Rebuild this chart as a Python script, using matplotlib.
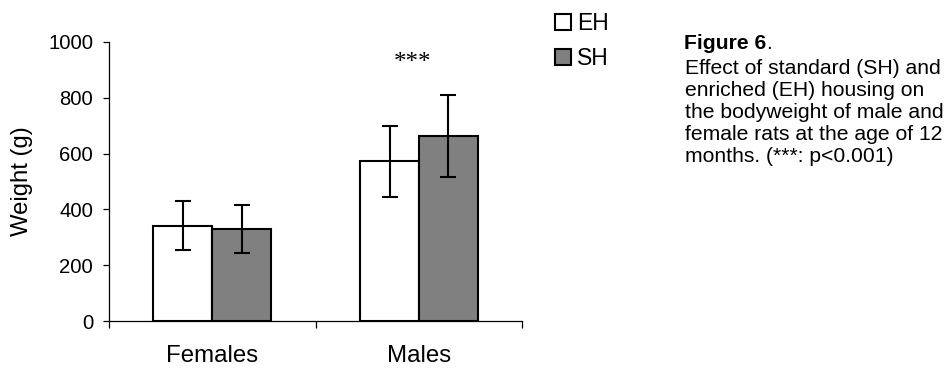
import matplotlib
matplotlib.use("Agg")
import matplotlib.pyplot as plt
import numpy as np

plt.rcParams['font.family'] = ['Liberation Sans', 'DejaVu Sans']

# Mean bodyweight (g) and SD per sex and housing condition
categories = ["Females", "Males"]
groups = ["EH", "SH"]
eh_mean = [342, 573]
eh_sd = [87, 127]
sh_mean = [331, 664]
sh_sd = [86, 147]
y_ticks = [0, 200, 400, 600, 800, 1000]
significance = ["", "***"]

caption_title = "Figure 6"
caption_body = ("Effect of standard (SH) and\n"
                "enriched (EH) housing on\n"
                "the bodyweight of male and\n"
                "female rats at the age of 12\n"
                "months. (***: p<0.001)")

W, H, DPI = 947, 370, 100
fig = plt.figure(figsize=(W / DPI, H / DPI), dpi=DPI)
ax = fig.add_axes([109 / W, 1 - 321.3 / H, (522.3 - 109) / W, (321.3 - 41.7) / H])

centers = np.arange(len(categories)) + 0.5
bw = 0.285
err_kw = dict(ecolor="black", elinewidth=1.5, capsize=5.5, capthick=1.5)
b_eh = ax.bar(centers - bw / 2, eh_mean, bw, yerr=eh_sd, color="white",
              edgecolor="black", linewidth=1.5, label=groups[0],
              error_kw=err_kw, zorder=2)
b_sh = ax.bar(centers + bw / 2, sh_mean, bw, yerr=sh_sd, color="#808080",
              edgecolor="black", linewidth=1.5, label=groups[1],
              error_kw=err_kw, zorder=2)

for c, s in zip(centers, significance):
    if s:
        ax.text(c - 0.03, 924, s, ha="center", va="center", fontsize=18,
                family="Liberation Serif", color="black")

ax.set_xlim(0, len(categories))
ax.set_ylim(0, 1000)
ax.set_yticks(y_ticks)
ax.set_xticks(np.arange(len(categories) + 1))
ax.set_xticklabels([])
ax.set_xticks(centers, minor=True)
ax.set_xticklabels(categories, minor=True, fontsize=17.3)
ax.tick_params(axis="x", which="minor", length=0, pad=17)
ax.tick_params(axis="x", which="major", direction="out", length=5, width=0.9)
ax.tick_params(axis="y", direction="out", length=4.5, width=0.9, labelsize=14.6, pad=7)

for side in ("top", "right"):
    ax.spines[side].set_visible(False)
for side in ("left", "bottom"):
    ax.spines[side].set_linewidth(0.9)

ax.set_ylabel("Weight (g)", fontsize=17.2)
ax.yaxis.set_label_coords(-0.183, 0.5)

leg = fig.legend(handles=[b_eh, b_sh], labels=groups, loc="upper left",
                 bbox_to_anchor=(555 / W, 1 - 12 / H), frameon=False,
                 fontsize=16.5, handlelength=0.68, handleheight=0.68,
                 handletextpad=0.3, labelspacing=0.53, borderpad=0,
                 borderaxespad=0)

t = fig.text(684 / W, 1 - 49.3 / H, caption_title, fontsize=15.2,
             fontweight="bold", ha="left", va="baseline")
fig.canvas.draw()
ax.annotate(".", xy=(1, 0), xycoords=t, ha="left", va="bottom", fontsize=15.2)
# multi-line text anchored at the baseline of its last line
fig.text(685 / W, 1 - 161.7 / H, caption_body, fontsize=15.2, ha="left",
         va="baseline", linespacing=1.2)

fig.savefig("out.png", dpi=DPI)
